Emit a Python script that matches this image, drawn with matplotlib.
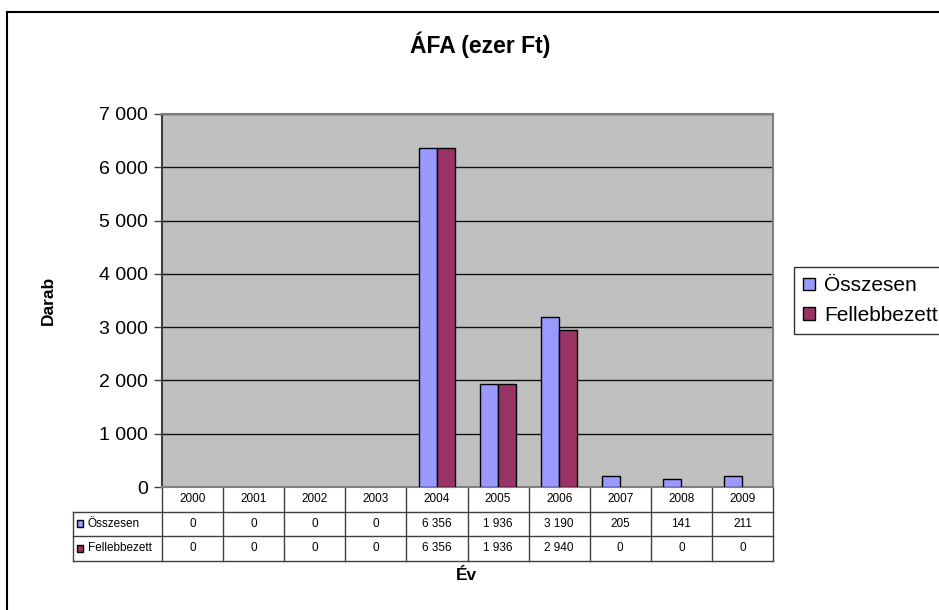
import matplotlib.pyplot as plt
from matplotlib.patches import Rectangle
from matplotlib.transforms import blended_transform_factory
from matplotlib.ticker import FuncFormatter

plt.rcParams["font.family"] = ["Liberation Sans", "DejaVu Sans"]

years = ["2000", "2001", "2002", "2003", "2004", "2005", "2006", "2007", "2008", "2009"]
osszesen = [0, 0, 0, 0, 6356, 1936, 3190, 205, 141, 211]
fellebbezett = [0, 0, 0, 0, 6356, 1936, 2940, 0, 0, 0]
series_names = ["Összesen", "Fellebbezett"]
colors = ["#9999FF", "#993366"]


def fmt(v, pos=None):
    return f"{int(v):,}".replace(",", " ")


fig = plt.figure(figsize=(9.39, 6.10), dpi=100)
W, H = 939, 610
ax = fig.add_axes([162 / W, 1 - 487 / H, (773 - 162) / W, (487 - 114) / H])
ax.set_facecolor("#C0C0C0")

x = list(range(len(years)))
bw = 0.3
for vals, off, c in [(osszesen, -bw / 2, colors[0]), (fellebbezett, bw / 2, colors[1])]:
    # zero values are not drawn at all
    xs = [i + off for i, v in zip(x, vals) if v > 0]
    hs = [v for v in vals if v > 0]
    ax.bar(xs, hs, bw, color=c, edgecolor="black", linewidth=1, zorder=3)

ax.set_xlim(-0.5, len(years) - 0.5)
ax.set_ylim(0, 7000)
ax.set_yticks(range(0, 7001, 1000))
ax.yaxis.set_major_formatter(FuncFormatter(fmt))
ax.tick_params(axis="y", labelsize=14, length=6, width=1, color="#404040", pad=4)
ax.set_xticks([])
ax.grid(axis="y", color="#111111", linewidth=1, zorder=1)
for s in ax.spines.values():
    s.set_color("#808080")
    s.set_linewidth(1.5)
ax.spines["left"].set_color("#404040")

# data table under the plot
tr = blended_transform_factory(ax.transData, ax.transAxes)
rh = 24.5 / (487 - 114)
lab_left = -0.5 - (162 - 73) / ((773 - 162) / len(years))
lc = "#404040"
rows = [osszesen, fellebbezett]
ax.plot([-0.5, 9.5], [-rh, -rh], transform=tr, color=lc, lw=1, clip_on=False)
for r in range(1, 3):
    ax.plot([lab_left, 9.5], [-rh * (r + 1), -rh * (r + 1)], transform=tr, color=lc, lw=1, clip_on=False)
ax.plot([lab_left, -0.5], [-rh, -rh], transform=tr, color=lc, lw=1, clip_on=False)
for i in range(len(years) + 1):
    ax.plot([i - 0.5, i - 0.5], [0, -3 * rh], transform=tr, color=lc, lw=1, clip_on=False)
ax.plot([lab_left, lab_left], [-rh, -3 * rh], transform=tr, color=lc, lw=1, clip_on=False)
for i, yr in enumerate(years):
    ax.text(i, -rh / 2, yr, transform=tr, ha="center", va="center", fontsize=8.5)
    for r, vals in enumerate(rows):
        ax.text(i, -rh * (r + 1.5), fmt(vals[i]), transform=tr, ha="center", va="center", fontsize=8.5)
for r, name in enumerate(series_names):
    ax.add_patch(Rectangle((lab_left + 0.06, -rh * (r + 1.5) - 0.009), 0.1, 0.018, transform=tr,
                           facecolor=colors[r], edgecolor="black", lw=1, clip_on=False))
    ax.text(lab_left + 0.24, -rh * (r + 1.5), name, transform=tr, ha="left", va="center", fontsize=8.5)

fig.text(480 / W, 1 - 45 / H, "ÁFA (ezer Ft)", ha="center", va="center", fontsize=16.5, fontweight="bold")
fig.text(466 / W, 1 - 576 / H, "Év", ha="center", va="center", fontsize=12.5, fontweight="bold")
fig.text(48 / W, 1 - 300 / H, "Darab", ha="center", va="center", fontsize=12.5, fontweight="bold", rotation=90)

handles = [Rectangle((0, 0), 1, 1, facecolor=c, edgecolor="black", lw=1) for c in colors]
leg = fig.legend(handles, series_names, loc="upper left", bbox_to_anchor=(794 / W, 1 - 267 / H),
                 fontsize=15, frameon=True, fancybox=False, edgecolor="black", borderaxespad=0,
                 handlelength=0.55, handleheight=0.55, handletextpad=0.45, labelspacing=0.5,
                 borderpad=0.45)
leg.get_frame().set_linewidth(1)

fig.patches.append(Rectangle((7 / W, -0.1), 1.1, 1.1 - 12 / H, transform=fig.transFigure,
                             facecolor="none", edgecolor="black", lw=1.5))

fig.savefig("out.png", dpi=100)
